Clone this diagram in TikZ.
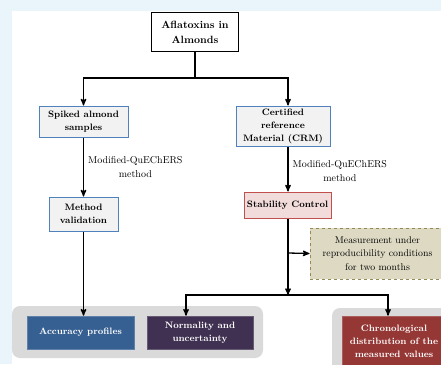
\documentclass[tikz,border=0pt]{standalone}
\usepackage{tikz}
\usetikzlibrary{positioning, arrows}
\definecolor{pageblue}{HTML}{EAF5FB}
\definecolor{edgeblue}{HTML}{4F81BD}
\definecolor{softgrey}{HTML}{F2F2F2}
\definecolor{panelgrey}{HTML}{DADADA}
\definecolor{stabred}{HTML}{C0504D}
\definecolor{stabpink}{HTML}{F2DCDB}
\definecolor{olivefill}{HTML}{DDD9C3}
\definecolor{olivedraw}{HTML}{948A54}
\definecolor{accblue}{HTML}{376092}
\definecolor{normpurple}{HTML}{403152}
\definecolor{chronored}{HTML}{953735}
\tikzset{
x=1pt, y=-1pt, % one pixel of the reference is one point
>=stealth', % small bold arrow heads
every node/.style={align=center, inner sep=0pt, font=\bfseries\fontsize{9.3}{13}\selectfont},
flow/.style={line width=1.3pt}, % the black connectors
bluebox/.style={draw=edgeblue, fill=softgrey, line width=1pt},
blackbox/.style={draw=black, fill=white, line width=1.6pt, font=\bfseries\fontsize{10.5}{15}\selectfont},
stabbox/.style={draw=stabred, fill=stabpink, line width=1pt},
notebox/.style={draw=olivedraw, fill=olivefill, dashed, line width=0.9pt, font=\fontsize{9.8}{13.5}\selectfont},
result/.style={text=white, line width=0.6pt},
panel/.style={fill=panelgrey, rounded corners=8pt},
lbl/.style={font=\fontsize{10}{14}\selectfont, inner sep=4pt},
}
\begin{document}
\begin{tikzpicture}
  \useasboundingbox (0,0) rectangle (441,364);
  \fill[pageblue] (0,0) rectangle (441,364);
  \fill[white] (12,11) rectangle (441,364);

  % grey panels behind the results
  \fill[panel] (12,306) rectangle (263,358);
  \fill[panel] (332,308) rectangle (460,380);

  \node[blackbox, minimum width=87, minimum height=39] (aflat) at (195,32) {Aflatoxins in\\Almonds};
  \node[bluebox, minimum width=89, minimum height=31] (spiked) at (83.5,121.5) {Spiked almond\\samples};
  \node[bluebox, minimum width=94, minimum height=40] (crm) at (283,126) {Certified\\reference\\Material (CRM)};
  \node[bluebox, minimum width=69, minimum height=34] (valid) at (83.5,214) {Method\\validation};
  \node[stabbox, minimum width=87, minimum height=26] (stab) at (287.5,205) {Stability Control};
  \node[notebox, minimum width=135, minimum height=51] (meas) at (377.5,253.5) {Measurement under\\reproducibility conditions\\for two months};
  \node[result, fill=accblue, draw=accblue!80!white, minimum width=107, minimum height=33] (acc) at (80.5,332.5) {Accuracy profiles};
  \node[result, fill=normpurple, draw=normpurple!80!white, minimum width=106, minimum height=33] (norm) at (200,332.5) {Normality and\\uncertainty};
  \node[result, fill=chronored, draw=chronored!80!white, minimum width=104, minimum height=50] (chrono) at (394,341) {Chronological\\distribution of the\\measured values};

  \coordinate (split1) at (195,78);
  \coordinate (tap) at (288,253);
  \coordinate (split2) at (288,295);

  \draw[flow] (aflat.south) -- (split1);
  \draw[flow, ->] (split1) -| (spiked.north);
  \draw[flow, ->] (split1) -| (tap |- crm.north);

  \draw[flow, ->] (spiked.south) -- node[lbl, right] {Modified-QuEChERS\\method} (valid.north);
  \draw[flow, ->] (tap |- crm.south) -- node[lbl, right, yshift=-2pt] {Modified-QuEChERS\\method} (tap |- stab.north);

  \draw[flow, ->] (valid.south) -- (valid.south |- acc.north);
  \draw[flow] (tap |- stab.south) -- (tap);
  \draw[flow, ->] (tap) -- (meas.west);
  \draw[flow, ->] (tap) -- (split2);
  \draw[flow, ->] (split2) -| ([xshift=-14]norm.north);
  \draw[flow, ->] (split2) -| ([xshift=-6]chrono.north);
\end{tikzpicture}
\end{document}
